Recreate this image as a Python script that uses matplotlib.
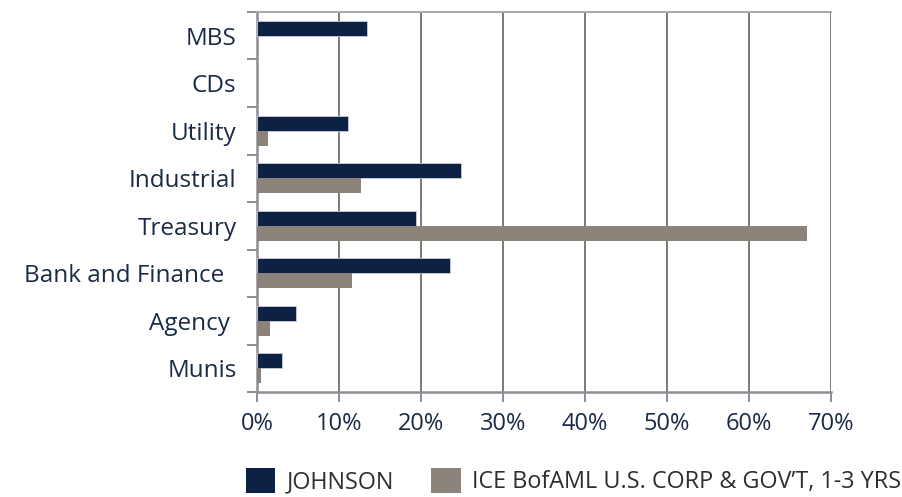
import matplotlib
matplotlib.use('Agg')
import matplotlib.pyplot as plt
import numpy as np
from matplotlib.patches import Patch
from matplotlib.ticker import FuncFormatter

plt.rcParams['font.family'] = ['Open Sans', 'DejaVu Sans']

# bottom to top, as drawn
categories = ['Munis', 'Agency ', 'Bank and Finance  ', 'Treasury', 'Industrial',
              'Utility', 'CDs', 'MBS']
johnson = [3.0, 4.7, 23.5, 19.4, 24.8, 11.1, 0.0, 13.4]
index_bm = [0.4, 1.5, 11.6, 67.1, 12.6, 1.3, 0.0, 0.0]
xticks = [0, 10, 20, 30, 40, 50, 60, 70]
series_names = ['JOHNSON', 'ICE BofAML U.S. CORP & GOV\u2019T, 1-3 YRS']

navy = '#0c2144'
taupe = '#8b8379'
text_navy = '#1b2a47'
grid_c = '#7d7a72'

fig = plt.figure(figsize=(9.03, 4.97), dpi=100)
ax = fig.add_axes([0.285, 0.211, 0.635, 0.765])

y = np.arange(len(categories))
h = 0.315
ax.barh(y + h / 2, johnson, height=h, color=navy, edgecolor='#c8ccd6',
        linewidth=[0.6 if v > 0 else 0 for v in johnson], zorder=3)
ax.barh(y - h / 2, index_bm, height=h, color=taupe, edgecolor='none', zorder=3)

ax.set_xlim(0, 70)
ax.set_ylim(-0.5, len(categories) - 0.5)
ax.set_xticks(xticks)
ax.xaxis.set_major_formatter(FuncFormatter(lambda v, p: f'{int(v)}%'))
ax.set_yticks(y)
ax.set_yticklabels(categories)
ax.set_yticks(np.arange(-0.5, len(categories)), minor=True)

ax.grid(axis='x', color=grid_c, linewidth=1.4, zorder=0)
ax.tick_params(axis='y', which='major', length=0, pad=15, labelsize=17.5, labelcolor=text_navy)
ax.tick_params(axis='y', which='minor', length=7, width=1.4, color='#8d8d95')
ax.tick_params(axis='x', length=7, width=1.4, color='#8d8d95', pad=7,
               labelsize=17, labelcolor=text_navy)

for side in ['left', 'bottom']:
    ax.spines[side].set_color('#8d8d95')
    ax.spines[side].set_linewidth(1.8)
ax.spines['top'].set_color('#a7a7a4')
ax.spines['top'].set_linewidth(1.4)
ax.spines['right'].set_visible(False)

handles = [Patch(facecolor=navy, edgecolor='none'), Patch(facecolor=taupe, edgecolor='none')]
fig.legend(handles, series_names, loc='lower left', bbox_to_anchor=(0.262, -0.013),
           ncol=2, frameon=False, fontsize=16.8, labelcolor='#2e2e2e',
           handlelength=1.25, handleheight=1.3, handletextpad=0.5, columnspacing=1.6,
           borderaxespad=0)

fig.savefig('out.png', dpi=100)
